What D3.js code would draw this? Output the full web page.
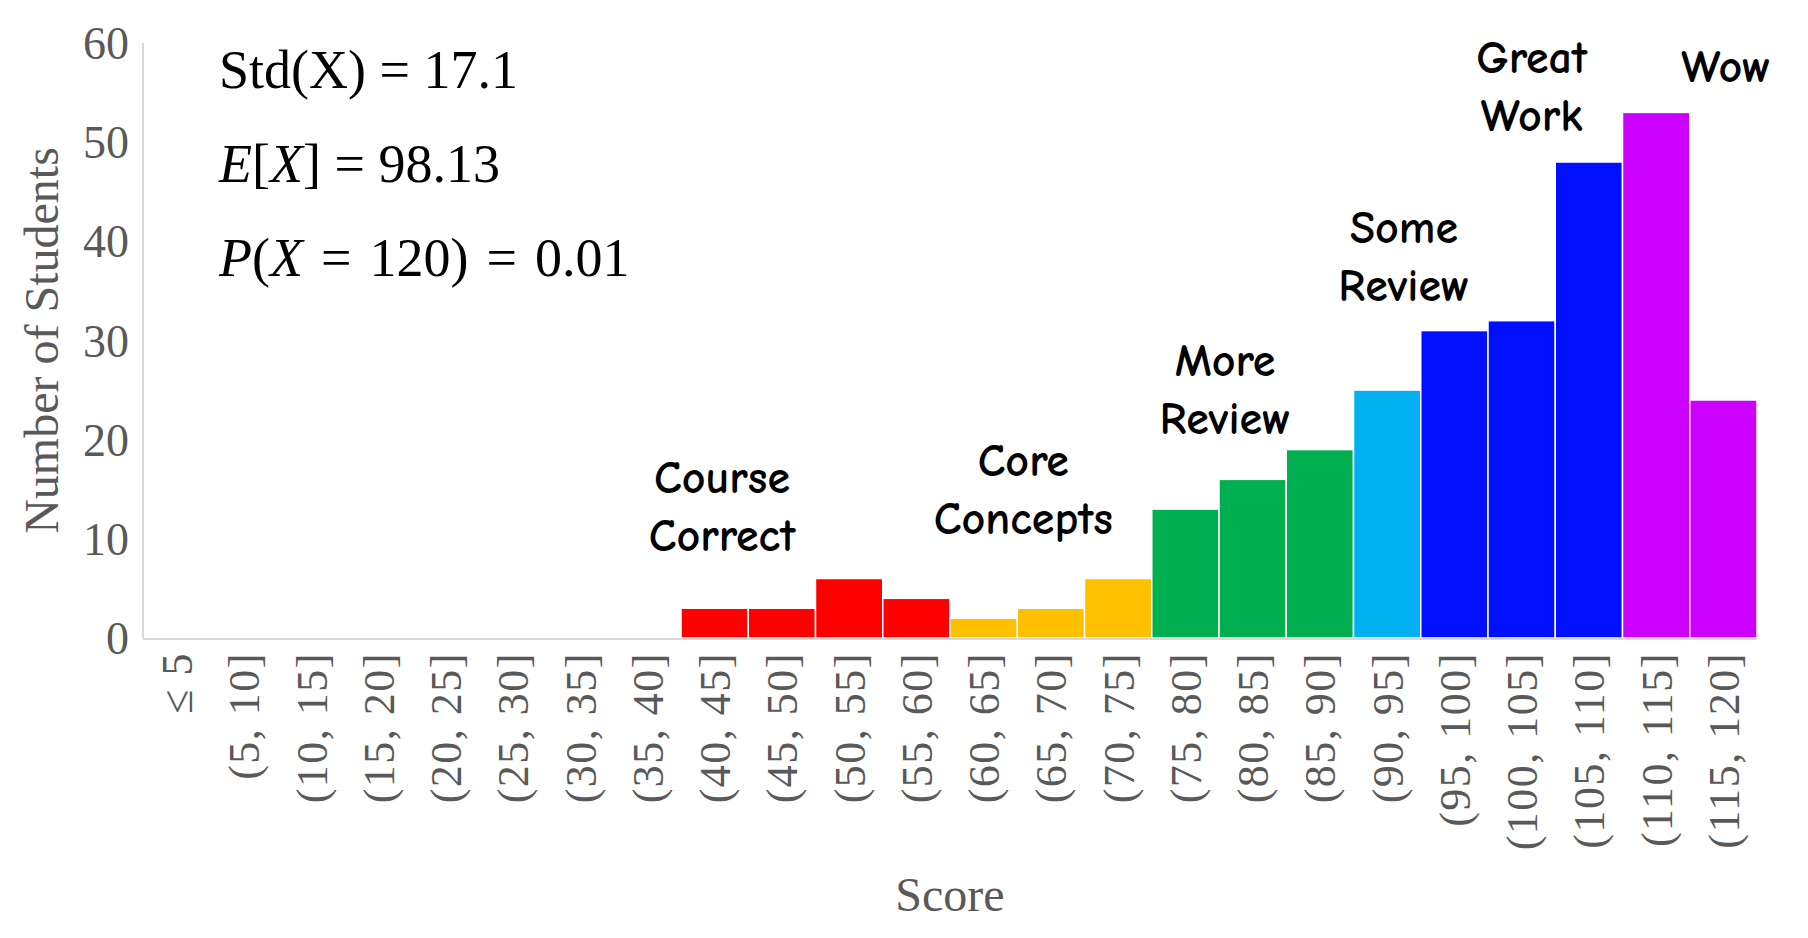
<!DOCTYPE html>
<html>
<head>
<meta charset="utf-8">
<script src="https://cdn.jsdelivr.net/npm/d3@7"></script>
<style>
  body { margin: 0; background: #fff; }
  svg { display: block; }
</style>
</head>
<body>
<svg></svg>
<script>
// histogram of scores, bins of width 5
const bins = ['≤ 5', '(5, 10]', '(10, 15]', '(15, 20]', '(20, 25]', '(25, 30]',
  '(30, 35]', '(35, 40]', '(40, 45]', '(45, 50]', '(50, 55]', '(55, 60]',
  '(60, 65]', '(65, 70]', '(70, 75]', '(75, 80]', '(80, 85]', '(85, 90]',
  '(90, 95]', '(95, 100]', '(100, 105]', '(105, 110]', '(110, 115]', '(115, 120]'];
const counts = [0, 0, 0, 0, 0, 0, 0, 0, 3, 3, 6, 4, 2, 3, 6, 13, 16, 19, 25, 31, 32, 48, 53, 24];
const groups = ['none', 'none', 'none', 'none', 'none', 'none', 'none', 'none',
  'course', 'course', 'course', 'course', 'core', 'core', 'core',
  'more', 'more', 'more', 'some', 'great', 'great', 'great', 'wow', 'wow'];
const yTicks = [0, 10, 20, 30, 40, 50, 60];

// annotation text, with the bin (fractional) and count where it sits
const noteLines = [['Course', 'Correct'], ['Core', 'Concepts'], ['More', 'Review'],
  ['Some', 'Review'], ['Great', 'Work'], ['Wow']];
const noteBin = [8.11, 12.59, 15.59, 18.25, 20.15, 23.04];
const noteCount = [14.6, 16.3, 26.4, 39.8, 57.0, 56.1];

const colors = {
  none: '#ffffff', course: '#ff0000', core: '#ffc000', more: '#00b050',
  some: '#00b0f0', great: '#0010ff', wow: '#cc00ff'
};

const s = { width: 1808, height: 938 };
const m = { left: 143, right: 51, top: 43, bottom: 300 };

const svg = d3.select('svg')
    .attr('width', s.width)
    .attr('height', s.height);

const x = d3.scaleBand()
    .domain(bins)
    .range([m.left, s.width - m.right])
    .padding(0);

const y = d3.scaleLinear()
    .domain([0, 60])
    .range([s.height - m.bottom, m.top]);

// axis lines
svg.append('line')
    .attr('x1', m.left).attr('x2', m.left)
    .attr('y1', y(60)).attr('y2', y(0))
    .attr('stroke', '#d9d9d9').attr('stroke-width', 2);

svg.selectAll('rect.bar')
  .data(bins)
  .enter().append('rect')
    .attr('class', 'bar')
    .attr('x', d => x(d))
    .attr('width', x.bandwidth())
    .attr('y', (d, i) => y(counts[i]))
    .attr('height', (d, i) => y(0) - y(counts[i]))
    .attr('fill', (d, i) => colors[groups[i]])
    .attr('stroke', '#fff')
    .attr('stroke-width', 1.5);

svg.append('line')
    .attr('x1', m.left).attr('x2', s.width - m.right)
    .attr('y1', y(0) + 1).attr('y2', y(0) + 1)
    .attr('stroke', '#d9d9d9').attr('stroke-width', 2);

// y tick labels
svg.selectAll('text.ytick')
  .data(yTicks)
  .enter().append('text')
    .attr('class', 'ytick')
    .attr('x', m.left - 14)
    .attr('y', d => y(d))
    .attr('dy', '0.35em')
    .attr('text-anchor', 'end')
    .attr('font-family', '"Liberation Serif", serif')
    .attr('font-size', 46)
    .attr('fill', '#595959')
    .text(d => d);

// x tick labels, rotated
svg.selectAll('text.xtick')
  .data(bins)
  .enter().append('text')
    .attr('class', 'xtick')
    .attr('transform', d => `translate(${x(d) + x.bandwidth() / 2},${y(0) + 14}) rotate(-90)`)
    .attr('dy', '0.35em')
    .attr('text-anchor', 'end')
    .attr('font-family', '"Liberation Serif", serif')
    .attr('font-size', 44)
    .attr('letter-spacing', 1.5)
    .attr('fill', '#595959')
    .text(d => d);

// axis titles
svg.append('text')
    .attr('x', (m.left + s.width - m.right) / 2)
    .attr('y', 911)
    .attr('text-anchor', 'middle')
    .attr('font-family', '"Liberation Serif", serif')
    .attr('font-size', 48)
    .attr('fill', '#595959')
    .text('Score');

svg.append('text')
    .attr('transform', `translate(58,${(y(0) + y(60)) / 2}) rotate(-90)`)
    .attr('text-anchor', 'middle')
    .attr('font-family', '"Liberation Serif", serif')
    .attr('font-size', 48)
    .attr('fill', '#595959')
    .text('Number of Students');

// annotations
noteLines.forEach((lines, k) => {
  const t = svg.append('text')
      .attr('text-anchor', 'middle')
      .attr('font-family', '"Comic Sans MS", "Comic Neue", "Open Sans", sans-serif')
      .attr('font-size', 46)
      .attr('font-weight', 'bold')
      .attr('fill', '#000');
  lines.forEach((line, i) => {
    t.append('tspan')
        .attr('x', m.left + x.step() * (noteBin[k] + 0.5))
        .attr('y', y(noteCount[k]) + i * 58)
        .text(line);
  });
});

// summary stats
const stats = [
  [['Std(X)', false], [' = 17.1', false]],
  [['E', true], ['[', false], ['X', true], [']', false], [' = 98.13', false]],
  [['P', true], ['(', false], ['X', true], ['\u2004=\u2004120)\u2004=\u20040.01', false]],
];
stats.forEach((parts, i) => {
  const t = svg.append('text')
      .attr('x', 219)
      .attr('y', 88 + i * 94)
      .attr('font-family', '"Liberation Serif", serif')
      .attr('font-size', 54)
      .attr('fill', '#000')
      .attr('xml:space', 'preserve');
  parts.forEach(p => {
    t.append('tspan')
        .attr('font-style', p[1] ? 'italic' : 'normal')
        .text(p[0]);
  });
});
</script>
</body>
</html>
